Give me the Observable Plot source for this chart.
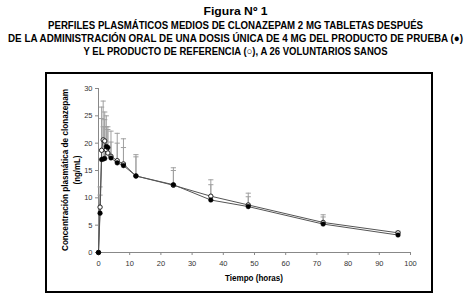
<!DOCTYPE html>
<html><head><meta charset="utf-8">
<script src="https://cdn.jsdelivr.net/npm/d3@7"></script>
<script src="https://cdn.jsdelivr.net/npm/@observablehq/plot@0.6"></script>
<style>
body{margin:0;background:#fff;width:471px;height:307px;position:relative;overflow:hidden;font-family:"Liberation Sans",Arial,sans-serif}
#title{position:absolute;left:0;top:0}
#box{position:absolute;left:45px;top:72px;width:384px;height:217px;border:2px solid #000;background:#fff}
#box svg{display:block}
</style></head><body>
<svg id="title" width="471" height="62"></svg>
<div id="box"></div>
<script>
// ---- data ----
const times = [0, 0.5, 1, 1.5, 2, 2.5, 3, 4, 6, 8, 12, 24, 36, 48, 72, 96];
const testMean = [0, 7.2, 17.0, 17.1, 17.2, 19.4, 19.2, 17.3, 16.4, 15.9, 14.0, 12.4, 9.6, 8.4, 5.2, 3.2];
const testUpper = [0, 10.5, 24.5, 23.0, 25.7, 23.0, 22.5, 20.2, 20.0, 19.2, 17.5, 15.0, 12.4, 10.2, 6.5, 3.7];
const refMean = [0, 8.3, 18.7, 20.6, 20.4, 18.8, 18.2, 17.6, 16.8, 16.2, 14.0, 12.3, 10.3, 8.7, 5.5, 3.6];
const refUpper = [0, 12.0, 26.6, 27.7, 24.3, 25.0, 23.0, 22.2, 21.8, 20.8, 17.9, 15.5, 13.3, 10.85, 6.9, 3.9];
const xTicks = [0, 10, 20, 30, 40, 50, 60, 70, 80, 90, 100];
const yTicks = [0, 5, 10, 15, 20, 25, 30];
const titleLines = [
  "Figura Nº 1",
  "PERFILES PLASMÁTICOS MEDIOS DE CLONAZEPAM 2 MG TABLETAS DESPUÉS",
  "DE LA ADMINISTRACIÓN ORAL DE UNA DOSIS ÚNICA DE 4 MG DEL PRODUCTO DE PRUEBA (●)",
  "Y EL PRODUCTO DE REFERENCIA (○), A 26 VOLUNTARIOS SANOS"
];
const xLabel = "Tiempo (horas)";
const yLabelLines = ["Concentración plasmática de clonazepam", "(ng/mL)"];

// ---- title ----
const titleLayout = [{y: 15, len: 64}, {y: 29, len: 375}, {y: 42, len: 455}, {y: 55, len: 304}];
const tsvg = d3.select("#title");
titleLines.forEach((t, i) => {
  tsvg.append("text")
    .attr("transform", `translate(235.5,${titleLayout[i].y}) scale(1,1.3)`)
    .attr("text-anchor", "middle")
    .attr("font-family", "Liberation Sans, Arial, sans-serif")
    .attr("font-weight", "bold").attr("font-size", 8.4)
    .attr("textLength", titleLayout[i].len)
    .attr("lengthAdjust", "spacingAndGlyphs")
    .text(t);
});

// ---- chart ----
const test = times.map((t, i) => ({t, v: testMean[i], hi: testUpper[i], s: "test"}));
const ref = times.map((t, i) => ({t, v: refMean[i], hi: refUpper[i], s: "ref"}));
const all = ref.concat(test);
const errs = all.filter(d => d.hi > d.v);

const capSymbol = {draw(ctx, size) { const w = Math.sqrt(size / Math.PI); ctx.moveTo(-w, 0); ctx.lineTo(w, 0); }};

const chart = Plot.plot({
  width: 384, height: 217,
  marginLeft: 51, marginRight: 21, marginTop: 14, marginBottom: 39,
  x: {domain: [0, 100]},
  y: {domain: [0, 30]},
  style: {fontFamily: "Liberation Sans, Arial, sans-serif", fontSize: "7.5px", background: "white", color: "#222"},
  marks: [
    Plot.ruleY([0], {stroke: "#888"}),
    Plot.ruleX([0], {y1: 0, y2: 30, stroke: "#888"}),
    Plot.axisX({ticks: xTicks, tickSize: 3, tickPadding: 5, stroke: "#888", fill: "#333", label: null}),
    Plot.axisY({ticks: yTicks, tickSize: 3, tickPadding: 3, stroke: "#888", fill: "#333", label: null}),
    Plot.ruleX(errs, {x: "t", y1: "v", y2: "hi", stroke: "#a0a0a0", strokeWidth: 1}),
    Plot.dot(errs, {x: "t", y: "hi", symbol: capSymbol, r: 2.6, stroke: "#a0a0a0", fill: "none", strokeWidth: 1}),
    Plot.line(all, {x: "t", y: "v", z: "s", stroke: "#555", strokeWidth: 1}),
    Plot.dot(ref, {x: "t", y: "v", r: 2.2, fill: "white", stroke: "#222", strokeWidth: 1}),
    Plot.dot(test, {x: "t", y: "v", r: 2.3, fill: "#000", stroke: "#000", strokeWidth: 0.5})
  ]
});
document.getElementById("box").appendChild(chart);

const svg = d3.select(chart);
svg.append("text")
  .attr("x", 51 + 312 / 2).attr("y", 207)
  .attr("text-anchor", "middle")
  .attr("font-weight", "bold").attr("font-size", 8.5)
  .attr("textLength", 58).attr("lengthAdjust", "spacingAndGlyphs")
  .attr("fill", "#000")
  .text(xLabel);
const yLay = [{x: 21, len: 162}, {x: 33, len: 29}];
yLabelLines.forEach((t, i) => {
  svg.append("text")
    .attr("transform", `translate(${yLay[i].x},96) rotate(-90)`)
    .attr("text-anchor", "middle")
    .attr("font-weight", "bold").attr("font-size", 8.5)
    .attr("textLength", yLay[i].len).attr("lengthAdjust", "spacingAndGlyphs")
    .attr("fill", "#000")
    .text(t);
});
</script>
</body></html>
